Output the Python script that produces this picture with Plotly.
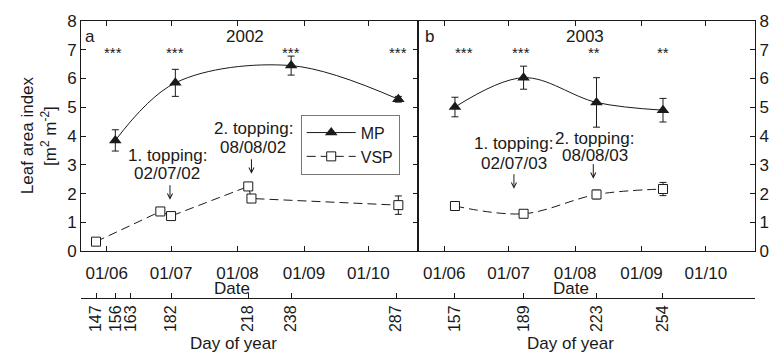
import plotly.graph_objects as go

# ---------------- data (x in day of year) ----------------
mp02_day = [156, 184, 238, 288]
mp02_lai = [3.85, 5.85, 6.45, 5.28]
mp02_err = [0.37, 0.47, 0.33, 0.1]

vsp02_day = [147, 177, 182, 218, 219.5, 288]
vsp02_lai = [0.33, 1.38, 1.22, 2.25, 1.83, 1.6]
vsp02_err = [0.05, 0.05, 0.05, 0.08, 0.08, 0.32]

mp03_day = [157, 189, 223, 254]
mp03_lai = [5.01, 6.03, 5.17, 4.9]
mp03_err = [0.34, 0.4, 0.86, 0.41]

vsp03_day = [157, 189, 223, 254]
vsp03_lai = [1.57, 1.3, 1.97, 2.16]
vsp03_err = [0.15, 0.06, 0.15, 0.23]

sig02_day = [155, 184, 238, 288]
sig02_txt = ["***", "***", "***", "***"]
sig03_day = [161, 188, 222, 254]
sig03_txt = ["***", "***", "**", "**"]

date_tickvals = [152, 182, 213, 244, 274]
date_ticktext = ["01/06", "01/07", "01/08", "01/09", "01/10"]
doy02_ticks = [147, 156, 163, 182, 218, 238, 287]
doy03_ticks = [157, 189, 223, 254]
y_ticks = [0, 1, 2, 3, 4, 5, 6, 7, 8]

topping02 = [("1. topping:", "02/07/02", 181.5, 1.79), ("2. topping:", "08/08/02", 219.5, 2.69)]
topping03 = [("1. topping:", "02/07/03", 184.5, 2.17), ("2. topping:", "08/08/03", 221.5, 2.52)]

FONT = "Liberation Sans, Arial, sans-serif"
INK = "#1a1a1a"
W, H = 781, 354
ML, MR, MT, MB = 81, 19, 20, 56
PW, PH = W - ML - MR, H - MT - MB
split = 341 / PW
ydom0 = (298 - 251) / PH

def px2paper_x(px):
    return (px - ML) / PW

def px2paper_y(py):
    return (298 - py) / PH

fig = go.Figure()

def add_series(x, y, err, xa, name, kind, show):
    if kind == "MP":
        marker = dict(symbol="triangle-up", size=11, color=INK)
        line = dict(color=INK, width=1, shape="spline", smoothing=1.0)
    else:
        marker = dict(symbol="square", size=9, color="white", line=dict(color=INK, width=1))
        line = dict(color=INK, width=1, dash="9px,5px",
                    shape="spline" if xa == "x2" else "linear", smoothing=1.0)
    fig.add_trace(go.Scatter(
        x=x, y=y, xaxis=xa, yaxis="y" if xa == "x" else "y2",
        mode="lines+markers", name=name, showlegend=show,
        marker=marker, line=line,
        error_y=dict(type="data", array=err, color=INK, thickness=1, width=3.5),
    ))

add_series(mp02_day, mp02_lai, mp02_err, "x", "MP", "MP", True)
add_series(vsp02_day, vsp02_lai, vsp02_err, "x", "VSP", "VSP", True)
add_series(mp03_day, mp03_lai, mp03_err, "x2", "MP", "MP", False)
add_series(vsp03_day, vsp03_lai, vsp03_err, "x2", "VSP", "VSP", False)

# invisible traces to carry the day-of-year axes
fig.add_trace(go.Scatter(x=[], y=[], xaxis="x3", yaxis="y", showlegend=False, hoverinfo="skip"))
fig.add_trace(go.Scatter(x=[], y=[], xaxis="x4", yaxis="y2", showlegend=False, hoverinfo="skip"))

axis_common = dict(showline=True, linecolor=INK, linewidth=1, showgrid=False, zeroline=False,
                   ticks="inside", ticklen=5, tickcolor=INK, tickwidth=1,
                   tickfont=dict(family=FONT, size=17, color=INK))

fig.update_layout(
    width=W, height=H,
    margin=dict(l=ML, r=MR, t=MT, b=MB),
    paper_bgcolor="white", plot_bgcolor="white",
    font=dict(family=FONT, size=17, color=INK),
    xaxis=dict(domain=[0, split], range=[140, 297.4], tickvals=date_tickvals, ticktext=date_ticktext,
               mirror="ticks", anchor="y", ticklabelstandoff=6, **axis_common),
    xaxis2=dict(domain=[split, 1], range=[140, 296.9], tickvals=date_tickvals, ticktext=date_ticktext,
                mirror="ticks", anchor="y2", ticklabelstandoff=6, **axis_common),
    yaxis=dict(domain=[ydom0, 1], range=[0, 8], tickvals=y_ticks, anchor="x", mirror="ticks", **axis_common),
    yaxis2=dict(domain=[ydom0, 1], range=[0, 8], tickvals=y_ticks, anchor="x2", side="right",
                matches="y", mirror=True, **axis_common),
    xaxis3=dict(overlaying="x", anchor="free", position=0, side="bottom", range=[140, 297.4],
                tickvals=doy02_ticks, tickangle=-90,
                **{**axis_common, "tickfont": dict(family=FONT, size=16, color=INK)}),
    xaxis4=dict(overlaying="x2", anchor="free", position=0, side="bottom", range=[140, 296.9],
                tickvals=doy03_ticks, tickangle=-90,
                **{**axis_common, "tickfont": dict(family=FONT, size=16, color=INK)}),
    legend=dict(x=px2paper_x(303), y=px2paper_y(114), xanchor="left", yanchor="top",
                bgcolor="white", bordercolor="#777", borderwidth=1, itemwidth=49,
                font=dict(family=FONT, size=16, color=INK), tracegroupgap=0),
    showlegend=True,
)

ann = []
def paper_text(text, px, py, size=17, angle=0):
    ann.append(dict(text=text, x=px2paper_x(px), y=px2paper_y(py), xref="paper", yref="paper",
                    showarrow=False, xanchor="center", yanchor="middle", textangle=angle,
                    font=dict(family=FONT, size=size, color=INK)))

paper_text("a", 90, 36)
paper_text("2002", 247, 36)
paper_text("b", 433, 36)
paper_text("2003", 590, 36)
paper_text("Date", 234, 288)
paper_text("Date", 576, 288)
paper_text("Day of year", 235, 344)
paper_text("Day of year", 576, 344)
paper_text("Leaf area index", 27, 135, angle=-90)
paper_text("[m<sup>2</sup> m<sup>-2</sup>]", 48, 135, angle=-90)

for xs, txts, xr, yr in [(sig02_day, sig02_txt, "x", "y"), (sig03_day, sig03_txt, "x2", "y2")]:
    for d, t in zip(xs, txts):
        ann.append(dict(text=t, x=d, y=7, xref=xr, yref=yr, showarrow=False, yshift=-3,
                        font=dict(family=FONT, size=15, color=INK)))

for tops, xr, yr in [(topping02, "x", "y"), (topping03, "x2", "y2")]:
    for l1, l2, d, ytip in tops:
        ann.append(dict(text="", x=d, y=ytip, xref=xr, yref=yr, showarrow=True, ax=0, ay=-16,
                        arrowhead=5, arrowsize=1, arrowwidth=1, arrowcolor=INK))

paper_text("1. topping:", 168, 155)
paper_text("02/07/02", 168, 173)
paper_text("2. topping:", 255, 128)
paper_text("08/08/02", 255, 147)
paper_text("1. topping:", 518, 143)
paper_text("02/07/03", 518, 163)
paper_text("2. topping:", 600, 138)
paper_text("08/08/03", 600, 155)

fig.update_layout(annotations=ann)
fig.write_html("out.html")
